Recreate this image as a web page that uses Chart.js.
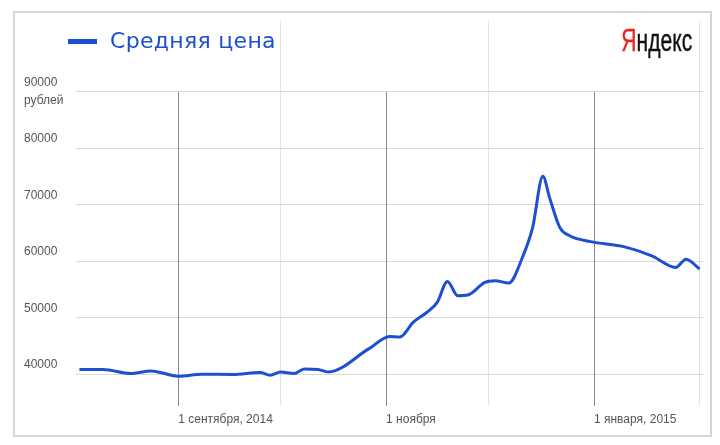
<!DOCTYPE html>
<html>
<head>
<meta charset="utf-8">
<script src="https://cdn.jsdelivr.net/npm/chart.js@4/dist/chart.umd.min.js"></script>
<style>
  html, body { margin: 0; padding: 0; background: #fff; overflow: hidden; }
  #wrap { position: relative; width: 720px; height: 445px; }
  #priceChart { position: absolute; left: 0; top: 0; }
  .frame { position: absolute; left: 13px; top: 11px; width: 695px; height: 422px; border: 2px solid #d6d6d6; }
  .legend-line { position: absolute; left: 68px; top: 39px; width: 29px; height: 5px; background: #1d4fd3; }
  .legend-text { position: absolute; left: 110px; top: 28px; font: 22px "DejaVu Sans", Verdana, sans-serif; letter-spacing: 0.3px; color: #1d4fd3; line-height: 26px; white-space: nowrap; }
  .logo { position: absolute; right: 28px; top: 25px; font: 31px "Liberation Sans", Arial, sans-serif; color: #111; line-height: 31px;
          white-space: nowrap; transform: scaleX(0.68); transform-origin: right center; -webkit-text-stroke: 0.4px #111; }
  .logo span { color: #e8251c; -webkit-text-stroke: 0.4px #e8251c; }
</style>
</head>
<body>
<div id="wrap">
  <canvas id="priceChart" width="720" height="445"></canvas>
  <div class="frame"></div>
  <div class="legend-line"></div>
  <div class="legend-text">Средняя цена</div>
  <div class="logo"><span>Я</span>ндекс</div>
</div>
<script>
// price data
const dates = ['2014-08-03', '2014-08-10', '2014-08-18', '2014-08-24', '2014-09-01', '2014-09-08',
  '2014-09-17', '2014-09-25', '2014-09-28', '2014-10-01', '2014-10-05', '2014-10-08', '2014-10-12',
  '2014-10-15', '2014-10-27', '2014-11-02', '2014-11-05', '2014-11-09', '2014-11-13', '2014-11-16',
  '2014-11-19', '2014-11-22', '2014-11-25', '2014-11-30', '2014-12-03', '2014-12-07', '2014-12-11',
  '2014-12-14', '2014-12-17', '2014-12-19', '2014-12-22', '2014-12-25', '2014-12-31', '2015-01-10',
  '2015-01-18', '2015-01-25', '2015-01-28', '2015-02-01'];
const prices = [40830, 40830, 40120, 40580, 39650, 40000,
  39950, 40300, 39820, 40400, 40120, 40930, 40830,
  40400, 44520, 46690, 46570, 49200, 50960, 52720,
  56420, 53900, 54020, 56250, 56540, 56140, 60650,
  65930, 75020, 71200, 65930, 64460, 63460, 62530,
  60940, 58880, 60360, 58600];

const xTickDates = ['2014-09-01', '2014-10-01', '2014-11-01', '2014-12-01', '2015-01-01', '2015-02-01'];
const xTickLabels = ['1 сентября, 2014', '', '1 ноября', '', '1 января, 2015', ''];
const yTicks = [40000, 50000, 60000, 70000, 80000, 90000];
const yUnit = 'рублей';

const origin = Date.UTC(2014, 8, 1);
function dayOf(s) {
  return (new Date(s + 'T00:00:00Z').getTime() - origin) / 86400000;
}
const xTickDays = xTickDates.map(dayOf);
const points = dates.map((d, i) => ({ x: dayOf(d), y: prices[i] }));

// dark month lines start at the top tick, not at the top of the plot
const monthLines = {
  id: 'monthLines',
  beforeDatasetsDraw(chart) {
    const x = chart.scales.x, y = chart.scales.y;
    const c = chart.ctx;
    c.save();
    c.strokeStyle = '#8a8a8a';
    c.lineWidth = 1;
    xTickDays.forEach((d, i) => {
      if (!xTickLabels[i]) return;
      const px = Math.round(x.getPixelForValue(d)) + 0.5;
      c.beginPath();
      c.moveTo(px, y.getPixelForValue(yTicks[yTicks.length - 1]));
      c.lineTo(px, chart.chartArea.bottom);
      c.stroke();
    });
    c.restore();
  }
};

const ctx = document.getElementById('priceChart').getContext('2d');
const priceChart = new Chart(ctx, {
  type: 'line',
  data: {
    datasets: [{
      label: 'Средняя цена',
      data: points,
      borderColor: '#1d4fd3',
      borderWidth: 3,
      pointRadius: 0,
      cubicInterpolationMode: 'monotone',
      fill: false
    }]
  },
  options: {
    responsive: false,
    animation: false,
    layout: { padding: { left: 24, right: 17, top: 19, bottom: 17 } },
    plugins: { legend: { display: false }, tooltip: { enabled: false } },
    scales: {
      x: {
        type: 'linear',
        min: dayOf('2014-08-02'),
        max: dayOf('2015-02-02'),
        afterBuildTicks: s => { s.ticks = xTickDays.map(v => ({ value: v })); },
        afterFit: s => { s.height = 22; },
        border: { display: false },
        grid: {
          drawTicks: false,
          color: c => {
            const i = xTickDays.indexOf(c.tick ? c.tick.value : NaN);
            return i >= 0 && xTickLabels[i] ? 'rgba(0,0,0,0)' : '#e3e3e3';
          }
        },
        ticks: {
          autoSkip: false,
          maxRotation: 0,
          align: 'start',
          padding: 6,
          color: '#555',
          font: { family: '"Liberation Sans", Arial, sans-serif', size: 12 },
          callback: v => xTickLabels[xTickDays.indexOf(v)] || ''
        }
      },
      y: {
        min: 34370,
        max: 102500,
        afterBuildTicks: s => { s.ticks = yTicks.map(v => ({ value: v })); },
        afterFit: s => { s.width = 52; },
        border: { display: false },
        grid: { drawTicks: false, color: '#dadada' },
        ticks: {
          crossAlign: 'far',
          color: '#555',
          font: { family: '"Liberation Sans", Arial, sans-serif', size: 12, lineHeight: 1.5 },
          callback: v => v === yTicks[yTicks.length - 1] ? [String(v), yUnit] : [String(v), '']
        }
      }
    }
  },
  plugins: [monthLines]
});
</script>
</body>
</html>
